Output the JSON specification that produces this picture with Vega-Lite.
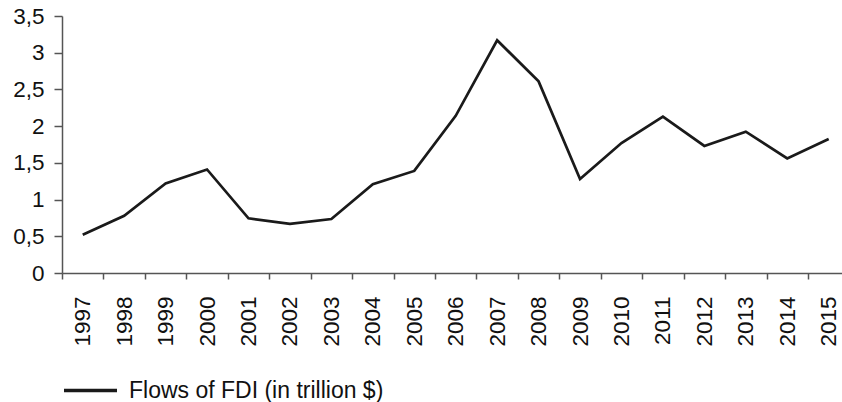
{
  "$schema": "https://vega.github.io/schema/vega-lite/v6.json",
  "width": 780,
  "height": 257,
  "autosize": {"type": "none"},
  "padding": {"left": 62, "top": 16, "right": 0, "bottom": 129},
  "background": "white",
  "config": {
    "view": {"stroke": null},
    "font": "Liberation Sans",
    "axis": {"grid": false, "domainColor": "#555555", "tickColor": "#555555", "labelColor": "#111111", "labelFont": "Liberation Sans", "domainWidth": 1.5, "tickWidth": 1.5}
  },
  "data": {
    "values": [
      {"year": "1997", "value": 0.52},
      {"year": "1998", "value": 0.78},
      {"year": "1999", "value": 1.22},
      {"year": "2000", "value": 1.41},
      {"year": "2001", "value": 0.745},
      {"year": "2002", "value": 0.67},
      {"year": "2003", "value": 0.735},
      {"year": "2004", "value": 1.21},
      {"year": "2005", "value": 1.39},
      {"year": "2006", "value": 2.14},
      {"year": "2007", "value": 3.17},
      {"year": "2008", "value": 2.61},
      {"year": "2009", "value": 1.28},
      {"year": "2010", "value": 1.77},
      {"year": "2011", "value": 2.13},
      {"year": "2012", "value": 1.73},
      {"year": "2013", "value": 1.925},
      {"year": "2014", "value": 1.56},
      {"year": "2015", "value": 1.825}
    ]
  },
  "mark": {"type": "line", "strokeWidth": 2.7, "strokeJoin": "miter"},
  "encoding": {
    "x": {
      "field": "year",
      "type": "ordinal",
      "bandPosition": 0.5,
      "scale": {"type": "band", "paddingInner": 0, "paddingOuter": 0, "range": [0, 787.4]},
      "axis": {"title": null, "labelAngle": -90, "labelFontSize": 22.5, "tickBand": "extent", "tickSize": 6, "labelPadding": 17, "labelAlign": "right", "labelBaseline": "middle"}
    },
    "y": {
      "field": "value",
      "type": "quantitative",
      "scale": {"domain": [0, 3.5], "nice": false},
      "axis": {"title": null, "values": [0, 0.5, 1, 1.5, 2, 2.5, 3, 3.5], "labelExpr": "replace(toString(datum.value), '.', ',')", "labelFontSize": 22.5, "tickSize": 8, "labelPadding": 10}
    },
    "color": {
      "datum": "Flows of FDI (in trillion $)",
      "type": "nominal",
      "scale": {"range": ["#1a1a1a"]},
      "legend": {"title": null, "orient": "none", "legendX": 0, "legendY": 346, "symbolType": "stroke", "symbolSize": 2809, "symbolStrokeWidth": 3.5, "labelFontSize": 23, "labelOffset": 10, "labelLimit": 500, "labelColor": "#111111", "padding": 0}
    }
  }
}
